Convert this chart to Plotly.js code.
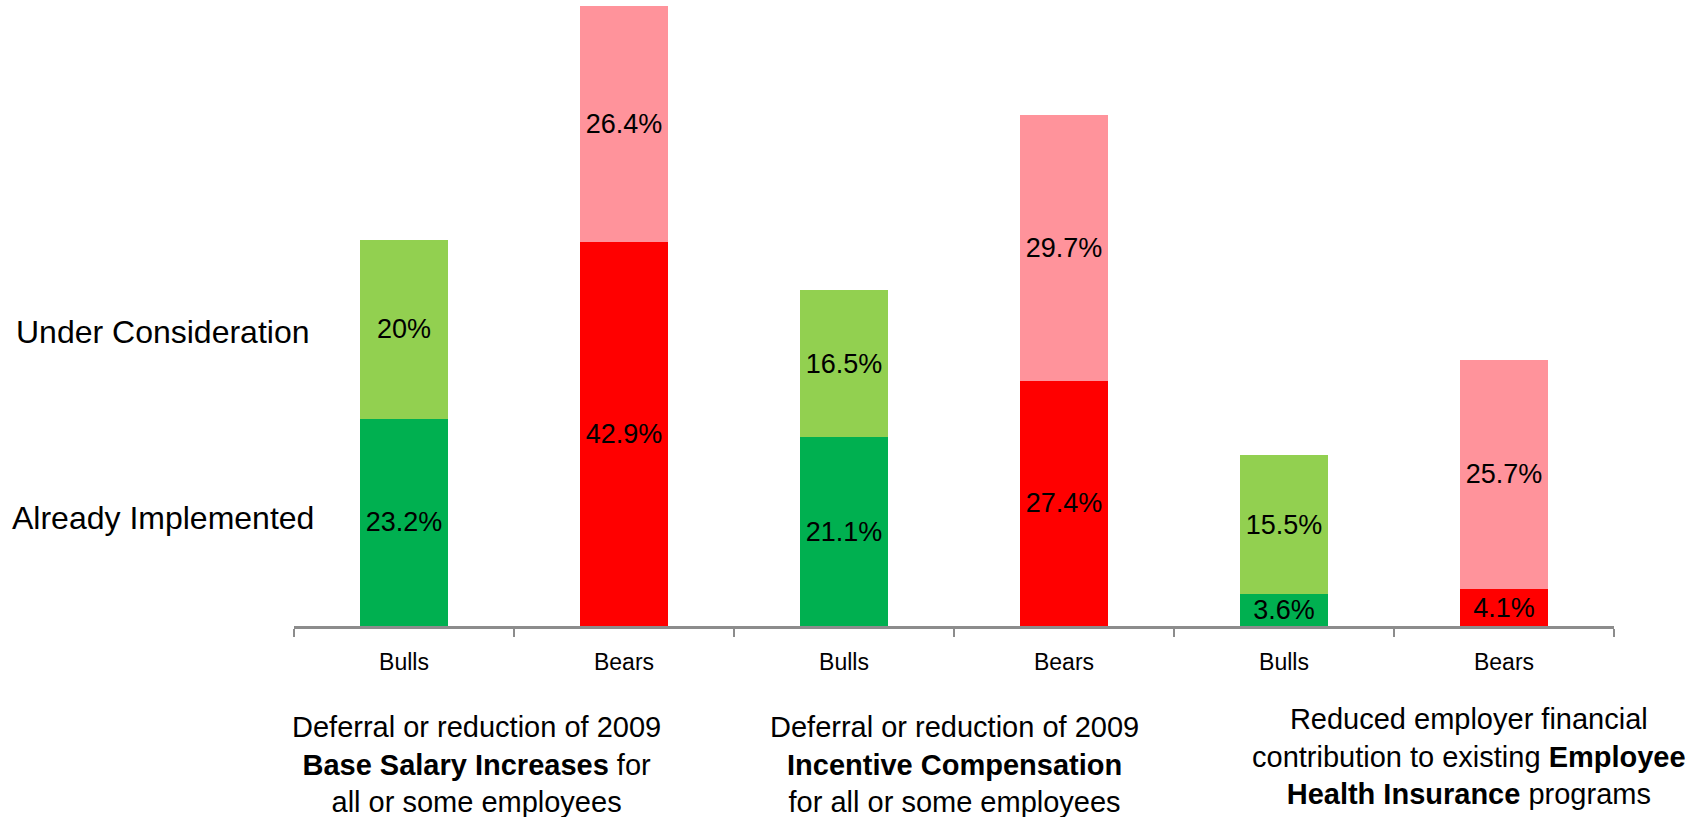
<!DOCTYPE html>
<html>
<head>
<meta charset="utf-8">
<script src="https://cdn.plot.ly/plotly-3.0.1.min.js"></script>
<style>
  html, body { margin: 0; padding: 0; background: #ffffff; }
  #chart { width: 1698px; height: 817px; }
</style>
</head>
<body>
<div id="chart"></div>
<script>
// Bar identifiers (one per bar) and the labels shown under each bar
const barIds = ["salary-bulls", "salary-bears", "incentive-bulls", "incentive-bears", "health-bulls", "health-bears"];
const barLabels = ["Bulls", "Bears", "Bulls", "Bears", "Bulls", "Bears"];

// Percent of respondents per stage
const alreadyImplemented = [23.2, 42.9, 21.1, 27.4, 3.6, 4.1];
const underConsideration = [20, 26.4, 16.5, 29.7, 15.5, 25.7];

// Colours per bar: bulls in greens, bears in reds
const implementedColors = ["#00B050", "#FF0000", "#00B050", "#FF0000", "#00B050", "#FF0000"];
const considerationColors = ["#92D050", "#FF939B", "#92D050", "#FF939B", "#92D050", "#FF939B"];

// Group captions under each pair of bars (paper coordinates)
const groupCaptions = [
  "Deferral or reduction of 2009<br><b>Base Salary Increases</b> for<br>all or some employees",
  "Deferral or reduction of 2009<br><b>Incentive Compensation</b><br>for all or some employees",
  "Reduced employer financial<br>contribution to existing <b>Employee</b><br><b>Health Insurance</b> programs"
];
const captionX = [0.138, 0.5, 0.89];
const captionY = [-0.132, -0.132, -0.12];

const FONT = "Liberation Sans, Arial, sans-serif";

const barStyle = {
  type: "bar",
  x: barIds,
  texttemplate: "%{y}%",
  textposition: "inside",
  insidetextanchor: "middle",
  constraintext: "none",
  textfont: { family: FONT, size: 27, color: "#000000" },
  hoverinfo: "skip",
  showlegend: false
};

const traces = [
  Object.assign({}, barStyle, {
    name: "Already Implemented",
    y: alreadyImplemented,
    marker: { color: implementedColors, line: { width: 0 } }
  }),
  Object.assign({}, barStyle, {
    name: "Under Consideration",
    y: underConsideration,
    marker: { color: considerationColors, line: { width: 0 } }
  })
];

const annotations = groupCaptions.map((t, i) => ({
  text: t,
  xref: "paper",
  x: captionX[i],
  yref: "paper",
  y: captionY[i],
  yanchor: "top",
  xanchor: "center",
  align: "center",
  showarrow: false,
  font: { family: FONT, size: 29, color: "#000000" }
}));

// Row labels on the left
annotations.push(
  { text: "Under Consideration", xref: "paper", x: -0.099, xanchor: "center",
    yref: "paper", y: 0.47, yanchor: "middle", showarrow: false,
    font: { family: FONT, size: 32, color: "#000000" } },
  { text: "Already Implemented", xref: "paper", x: -0.099, xanchor: "center",
    yref: "paper", y: 0.173, yanchor: "middle", showarrow: false,
    font: { family: FONT, size: 32, color: "#000000" } }
);

const layout = {
  width: 1698,
  height: 817,
  margin: { l: 294, r: 84, t: 0, b: 191 },
  paper_bgcolor: "#ffffff",
  plot_bgcolor: "#ffffff",
  barmode: "stack",
  bargap: 0.6,
  xaxis: {
    type: "category",
    range: [-0.5, 5.5],
    tickmode: "array",
    tickvals: barIds,
    ticktext: barLabels,
    tickson: "boundaries",
    ticks: "outside",
    ticklen: 8,
    tickwidth: 2,
    tickcolor: "#8C8C8C",
    showline: true,
    linecolor: "#8C8C8C",
    linewidth: 3,
    showgrid: false,
    zeroline: false,
    ticklabelstandoff: 13,
    tickfont: { family: FONT, size: 23, color: "#000000" },
    fixedrange: true
  },
  yaxis: {
    range: [0, 70],
    visible: false,
    showgrid: false,
    zeroline: false,
    fixedrange: true
  },
  annotations: annotations
};

Plotly.newPlot("chart", traces, layout, { displayModeBar: false, staticPlot: true });
</script>
</body>
</html>
